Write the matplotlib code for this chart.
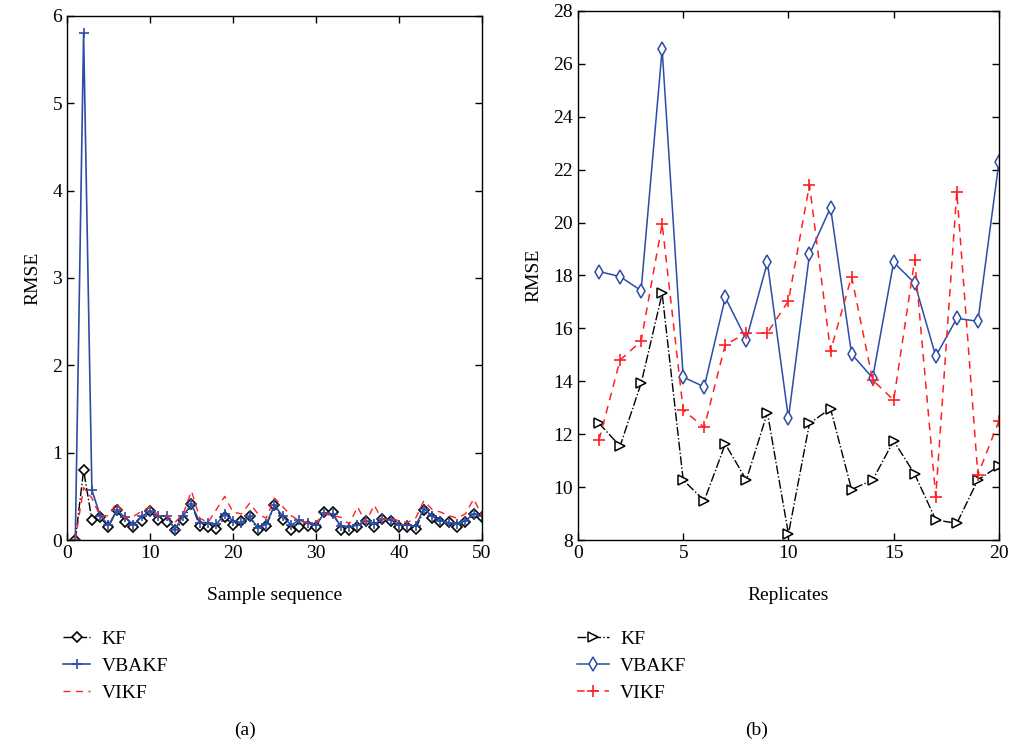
import matplotlib
matplotlib.use("Agg")
import matplotlib.pyplot as plt

plt.rcParams['font.family'] = ['Liberation Serif', 'DejaVu Serif']

# ---- Panel (a) data ----
sample_seq = list(range(1, 51))
kf_a = [0.0, 0.80, 0.23, 0.26, 0.15, 0.34, 0.21, 0.15, 0.22, 0.33,
        0.23, 0.21, 0.11, 0.23, 0.41, 0.16, 0.15, 0.13, 0.26, 0.17,
        0.22, 0.27, 0.11, 0.16, 0.40, 0.23, 0.12, 0.15, 0.16, 0.15,
        0.32, 0.32, 0.12, 0.12, 0.15, 0.22, 0.15, 0.24, 0.22, 0.15,
        0.15, 0.13, 0.34, 0.25, 0.21, 0.21, 0.15, 0.21, 0.30, 0.26]
vbakf_a = [0.0, 5.80, 0.57, 0.28, 0.17, 0.34, 0.26, 0.17, 0.27, 0.33,
           0.27, 0.28, 0.12, 0.28, 0.41, 0.20, 0.20, 0.18, 0.30, 0.22,
           0.20, 0.27, 0.14, 0.18, 0.40, 0.27, 0.17, 0.23, 0.19, 0.17,
           0.31, 0.30, 0.16, 0.15, 0.17, 0.22, 0.18, 0.24, 0.23, 0.17,
           0.17, 0.16, 0.36, 0.27, 0.22, 0.20, 0.18, 0.22, 0.30, 0.27]
vikf_a = [0.0, 0.60, 0.48, 0.27, 0.28, 0.43, 0.25, 0.27, 0.33, 0.38,
          0.28, 0.28, 0.20, 0.30, 0.56, 0.25, 0.20, 0.35, 0.50, 0.32,
          0.30, 0.42, 0.30, 0.25, 0.48, 0.38, 0.28, 0.22, 0.20, 0.20,
          0.30, 0.28, 0.26, 0.18, 0.38, 0.20, 0.40, 0.23, 0.25, 0.22,
          0.20, 0.25, 0.45, 0.35, 0.32, 0.28, 0.25, 0.30, 0.47, 0.28]

# ---- Panel (b) data ----
replicates = list(range(1, 21))
kf_b = [12.41, 11.55, 13.92, 17.32, 10.27, 9.49, 11.63, 10.27, 12.82, 8.23,
        12.41, 12.97, 9.91, 10.27, 11.75, 10.49, 8.76, 8.63, 10.27, 10.80]
vbakf_b = [18.15, 17.96, 17.43, 26.55, 14.16, 13.79, 17.17, 15.58, 18.50, 12.60,
           18.80, 20.57, 15.03, 14.13, 18.50, 17.71, 14.95, 16.38, 16.27, 22.28]
vikf_b = [11.78, 14.80, 15.52, 19.95, 12.91, 12.26, 15.39, 15.81, 15.83, 17.04,
          21.43, 15.14, 17.96, 14.05, 13.29, 18.59, 9.64, 21.17, 10.46, 12.50]

labels = ['KF', 'VBAKF', 'VIKF']
blue = '#2B4DA6'
red = '#FF2020'

fig = plt.figure(figsize=(10.09, 7.46), dpi=100)
ax1 = fig.add_axes([0.0664, 0.2761, 0.4113, 0.7025])
ax2 = fig.add_axes([0.5728, 0.2761, 0.4172, 0.7092])

# Panel (a)
l1, = ax1.plot(sample_seq, kf_a, color='black', linestyle='-.', linewidth=1.0,
               marker='D', markersize=5.5, markerfacecolor='white', markeredgecolor='black',
               markeredgewidth=1.2)
l2, = ax1.plot(sample_seq, vbakf_a, color=blue, linestyle='-', linewidth=1.2,
               marker='+', markersize=7, markeredgewidth=1.2)
l3, = ax1.plot(sample_seq, vikf_a, color=red, linestyle=(0, (5, 4)), linewidth=1.0)
ax1.set_xlim(0, 50)
ax1.set_ylim(0, 6)
ax1.set_xticks(range(0, 51, 10))
ax1.set_yticks(range(0, 7))
ax1.set_xlabel('Sample sequence', fontsize=14, labelpad=18)
ax1.set_ylabel('RMSE', fontsize=14, labelpad=8)

# Panel (b)
m1, = ax2.plot(replicates, kf_b, color='black', linestyle='-.', linewidth=1.0,
               marker='>', markersize=7, markerfacecolor='white', markeredgecolor='black',
               markeredgewidth=1.1)
m2, = ax2.plot(replicates, vbakf_b, color=blue, linestyle='-', linewidth=1.1,
               marker='d', markersize=7, markerfacecolor='white', markeredgecolor=blue,
               markeredgewidth=1.1)
m3, = ax2.plot(replicates, vikf_b, color=red, linestyle=(0, (5, 4)), linewidth=1.1,
               marker='+', markersize=8, markeredgewidth=1.2)
ax2.set_xlim(0, 20)
ax2.set_ylim(8, 28)
ax2.set_xticks(range(0, 21, 5))
ax2.set_yticks(range(8, 29, 2))
ax2.set_xlabel('Replicates', fontsize=14, labelpad=18)
ax2.set_ylabel('RMSE', fontsize=14, labelpad=8)

for ax in (ax1, ax2):
    ax.tick_params(direction='in', top=True, right=True, labelsize=14, length=5, width=1)
    for s in ax.spines.values():
        s.set_linewidth(1.0)

fig.legend([l1, l2, l3], labels, loc='upper left', bbox_to_anchor=(0.045, 0.179),
           frameon=False, fontsize=14, handlelength=1.4, labelspacing=0.5, handletextpad=0.6)
fig.legend([m1, m2, m3], labels, loc='upper left', bbox_to_anchor=(0.555, 0.179),
           frameon=False, fontsize=14, handlelength=1.6, labelspacing=0.5, handletextpad=0.6)

fig.text(0.243, 0.021, '(a)', ha='center', va='center', fontsize=14)
fig.text(0.750, 0.021, '(b)', ha='center', va='center', fontsize=14)

fig.savefig('out.png', dpi=100)
